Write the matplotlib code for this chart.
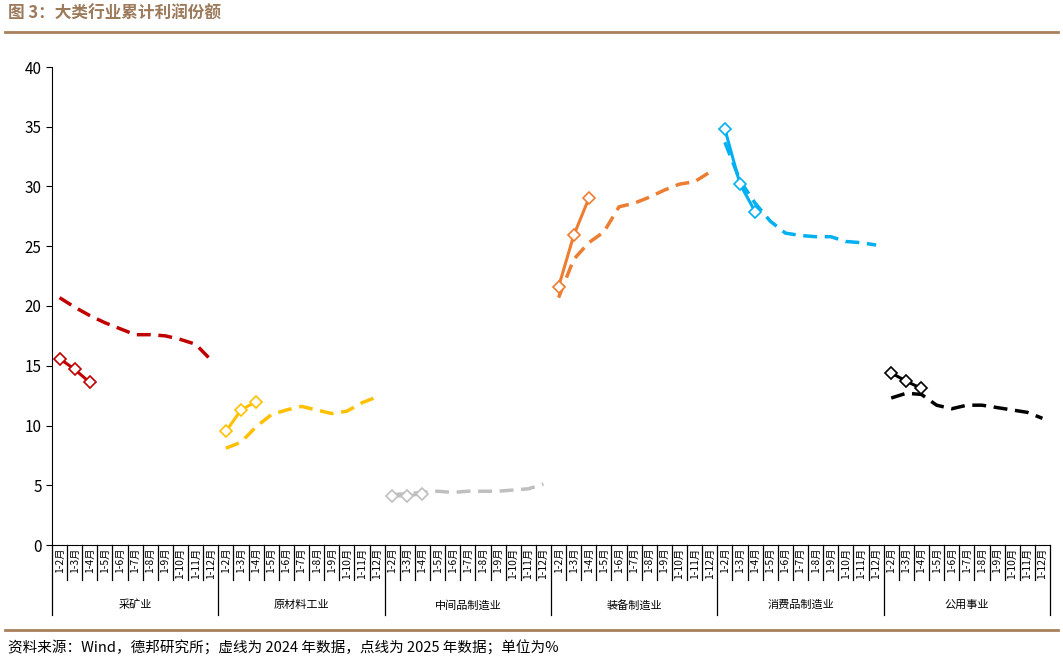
import matplotlib
matplotlib.use("Agg")
import matplotlib.pyplot as plt
import numpy as np
from matplotlib.lines import Line2D

plt.rcParams['font.family'] = ['Noto Sans CJK SC', 'DejaVu Sans']

groups = ["采矿业", "原材料工业", "中间品制造业", "装备制造业", "消费品制造业", "公用事业"]
months = ["1-2月", "1-3月", "1-4月", "1-5月", "1-6月", "1-7月", "1-8月", "1-9月", "1-10月", "1-11月", "1-12月"]
colors = ["#C00000", "#FFC000", "#BFBFBF", "#ED7D31", "#00B0F0", "#000000"]

y2024 = [
    [20.7, 19.9, 19.2, 18.6, 18.1, 17.6, 17.6, 17.5, 17.2, 16.8, 15.5],
    [8.1, 8.6, 9.9, 10.9, 11.3, 11.6, 11.3, 11.0, 11.2, 11.9, 12.4],
    [4.2, 4.3, 4.4, 4.5, 4.4, 4.5, 4.5, 4.5, 4.6, 4.7, 5.1],
    [20.7, 23.9, 25.3, 26.2, 28.3, 28.6, 29.1, 29.7, 30.2, 30.4, 31.2],
    [33.7, 30.5, 28.6, 27.1, 26.1, 25.9, 25.8, 25.8, 25.4, 25.3, 25.1],
    [12.3, 12.7, 12.6, 11.7, 11.4, 11.7, 11.7, 11.5, 11.3, 11.1, 10.6],
]
y2025 = [
    [15.6, 14.7, 13.6],
    [9.5, 11.3, 12.0],
    [4.1, 4.1, 4.3],
    [21.6, 25.9, 29.0],
    [34.8, 30.2, 27.9],
    [14.4, 13.7, 13.1],
]

W, H = 1063, 670
fig = plt.figure(figsize=(W/100, H/100), dpi=100)
ax = fig.add_axes([52/W, 1-545/H, (1050-52)/W, (545-67)/H])
n = len(months)
for g in range(len(groups)):
    xs = np.arange(n) + g*n
    ax.plot(xs, y2024[g], color=colors[g], lw=2.5, ls=(0, (4, 2.2)))
    ax.plot(xs[:len(y2025[g])], y2025[g], color=colors[g], lw=2.2,
            marker="D", ms=6, mfc="white", mec=colors[g], mew=1.2)

ax.set_xlim(-0.5, len(groups)*n - 0.5)
ax.set_ylim(0, 40)
ax.set_yticks(range(0, 41, 5))
ax.tick_params(axis='y', labelsize=11, direction='out', length=4)
for s in ["top", "right"]:
    ax.spines[s].set_visible(False)
ax.set_xticks([])

tr = ax.get_xaxis_transform()
total = len(groups)*n
# category boundaries
for i in range(total+1):
    x = i - 0.5
    is_group = (i % n == 0)
    y_end = -(615-545)/(545-67) if is_group else -(580-545)/(545-67)
    ax.add_line(Line2D([x, x], [0, y_end], transform=tr, color="black", lw=0.9, clip_on=False))
for g in range(len(groups)):
    for j, m in enumerate(months):
        ax.text(g*n + j, -0.006, m, transform=tr, rotation=90, ha="center", va="top", fontsize=7.5)
    ax.text(g*n + (n-1)/2, -(605-545)/(545-67), groups[g], transform=tr, ha="center", va="center", fontsize=8)

fig.text(8/W, 1-14/H, "图 3：大类行业累计利润份额", fontsize=12, fontweight="bold", color="#9C7A5B", va="center")
fig.add_artist(Line2D([5/W, 1058/W], [1-32/H, 1-32/H], color="#A9805B", lw=2))
fig.add_artist(Line2D([5/W, 1058/W], [1-630/H, 1-630/H], color="#A9805B", lw=2))
fig.text(8/W, 1-648/H, "资料来源：Wind，德邦研究所；虚线为 2024 年数据，点线为 2025 年数据；单位为%", fontsize=10.5, va="center")

fig.savefig("out.png", dpi=100)
